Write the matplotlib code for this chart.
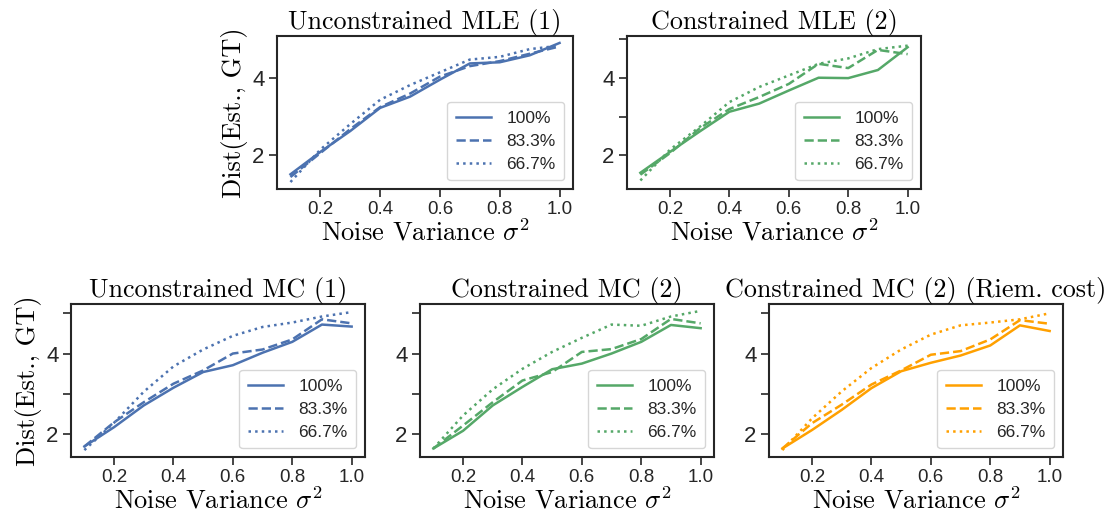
import matplotlib
matplotlib.use("Agg")
import matplotlib.pyplot as plt
import numpy as np

plt.rcParams['font.family'] = ['Liberation Sans', 'DejaVu Sans']
plt.rcParams['mathtext.fontset'] = 'cm'
plt.rcParams['axes.unicode_minus'] = False

noise = [0.1, 0.2, 0.3, 0.4, 0.5, 0.6, 0.7, 0.8, 0.9, 1.0]
labels = ["100%", "83.3%", "66.7%"]

titles = ["Unconstrained MLE (1)", "Constrained MLE (2)",
          "Unconstrained MC (1)", "Constrained MC (2)",
          "Constrained MC (2) (Riem. cost)"]

unc_mle_100 = [1.51, 2.09, 2.63, 3.23, 3.52, 3.96, 4.38, 4.41, 4.59, 4.91]
unc_mle_833 = [1.44, 2.06, 2.68, 3.25, 3.60, 4.04, 4.31, 4.44, 4.63, 4.82]
unc_mle_667 = [1.31, 2.15, 2.81, 3.44, 3.82, 4.15, 4.48, 4.55, 4.75, 4.84]

con_mle_100 = [1.55, 2.09, 2.62, 3.13, 3.34, 3.68, 4.01, 4.00, 4.21, 4.80]
con_mle_833 = [1.50, 2.06, 2.70, 3.20, 3.51, 3.85, 4.37, 4.26, 4.73, 4.62]
con_mle_667 = [1.35, 2.15, 2.74, 3.38, 3.77, 4.07, 4.37, 4.51, 4.75, 4.84]

unc_mc_100 = [1.69, 2.17, 2.71, 3.15, 3.54, 3.71, 4.02, 4.29, 4.72, 4.67]
unc_mc_833 = [1.69, 2.29, 2.79, 3.25, 3.58, 4.00, 4.10, 4.35, 4.85, 4.75]
unc_mc_667 = [1.60, 2.28, 3.05, 3.68, 4.10, 4.44, 4.66, 4.77, 4.92, 5.03]

con_mc_100 = [1.64, 2.08, 2.71, 3.17, 3.61, 3.75, 4.00, 4.29, 4.71, 4.63]
con_mc_833 = [1.64, 2.21, 2.79, 3.33, 3.54, 4.04, 4.11, 4.36, 4.86, 4.75]
con_mc_667 = [1.64, 2.46, 3.11, 3.62, 4.04, 4.39, 4.72, 4.69, 4.92, 5.06]

riem_mc_100 = [1.64, 2.10, 2.60, 3.14, 3.56, 3.77, 3.95, 4.20, 4.70, 4.56]
riem_mc_833 = [1.64, 2.27, 2.73, 3.23, 3.58, 3.97, 4.06, 4.35, 4.83, 4.74]
riem_mc_667 = [1.60, 2.39, 3.06, 3.64, 4.10, 4.47, 4.70, 4.77, 4.85, 5.00]

panels = [
    (unc_mle_100, unc_mle_833, unc_mle_667),
    (con_mle_100, con_mle_833, con_mle_667),
    (unc_mc_100, unc_mc_833, unc_mc_667),
    (con_mc_100, con_mc_833, con_mc_667),
    (riem_mc_100, riem_mc_833, riem_mc_667),
]
colors = ['#4C72B0', '#55A868', '#4C72B0', '#55A868', '#FFA000']
styles = ['-', '--', ':']

W, H = 1109, 514
fig = plt.figure(figsize=(W / 100, H / 100), dpi=100)

# pixel boxes: left, right, top, bottom
boxes = [
    (277, 573, 36, 189),
    (627, 921, 36, 189),
    (71, 365, 304, 457),
    (420, 714, 304, 457),
    (769, 1063, 304, 457),
]
axes = []
for (l, r, t, b) in boxes:
    ax = fig.add_axes([l / W, 1 - b / H, (r - l) / W, (b - t) / H])
    axes.append(ax)

for i, ax in enumerate(axes):
    for s, ser, lab in zip(styles, panels[i], labels):
        ax.plot(noise, ser, linestyle=s, color=colors[i], lw=1.8, label=lab)
    ax.set_xlim(0.055, 1.045)
    ax.set_xticks([0.2, 0.4, 0.6, 0.8, 1.0])
    ax.set_xticklabels(["0.2", "0.4", "0.6", "0.8", "1.0"], fontsize=13.5)
    if i == 0:
        ax.set_yticks([2, 4])
        ax.set_yticklabels(["2", "4"], fontsize=16)
    else:
        ax.set_yticks([2, 3, 4, 5])
        ax.set_yticklabels(["2", "", "4", ""], fontsize=16)
    ax.tick_params(axis='both', direction='out', length=6, width=1.2,
                   color='#262626', labelcolor='#262626', pad=3)
    for sp in ax.spines.values():
        sp.set_color('#262626')
        sp.set_linewidth(1.5)
    ax.set_title(titles[i], fontfamily='cmr10', fontsize=18.8, pad=4)
    ax.set_xlabel(r"Noise Variance $\sigma^2$", fontfamily='cmr10', fontsize=19,
                  labelpad=0)
    if i in (0, 2):
        ax.set_ylabel("Dist(Est., GT)", fontfamily='cmr10', fontsize=19,
                      labelpad=3)
    leg = ax.legend(loc='lower right', fontsize=12.5, frameon=True, fancybox=True,
                    borderpad=0.5, labelspacing=0.45, handlelength=2.0,
                    handletextpad=0.9, borderaxespad=0.5)
    leg.get_frame().set_edgecolor('#cccccc')
    leg.get_frame().set_linewidth(1.0)
    for txt in leg.get_texts():
        txt.set_color('#262626')

# shared y-limits per row
for row in ([0, 1], [2, 3, 4]):
    lo = min(axes[k].get_ylim()[0] for k in row)
    hi = max(axes[k].get_ylim()[1] for k in row)
    for k in row:
        axes[k].set_ylim(lo, hi)

fig.savefig("out.png", dpi=100)
